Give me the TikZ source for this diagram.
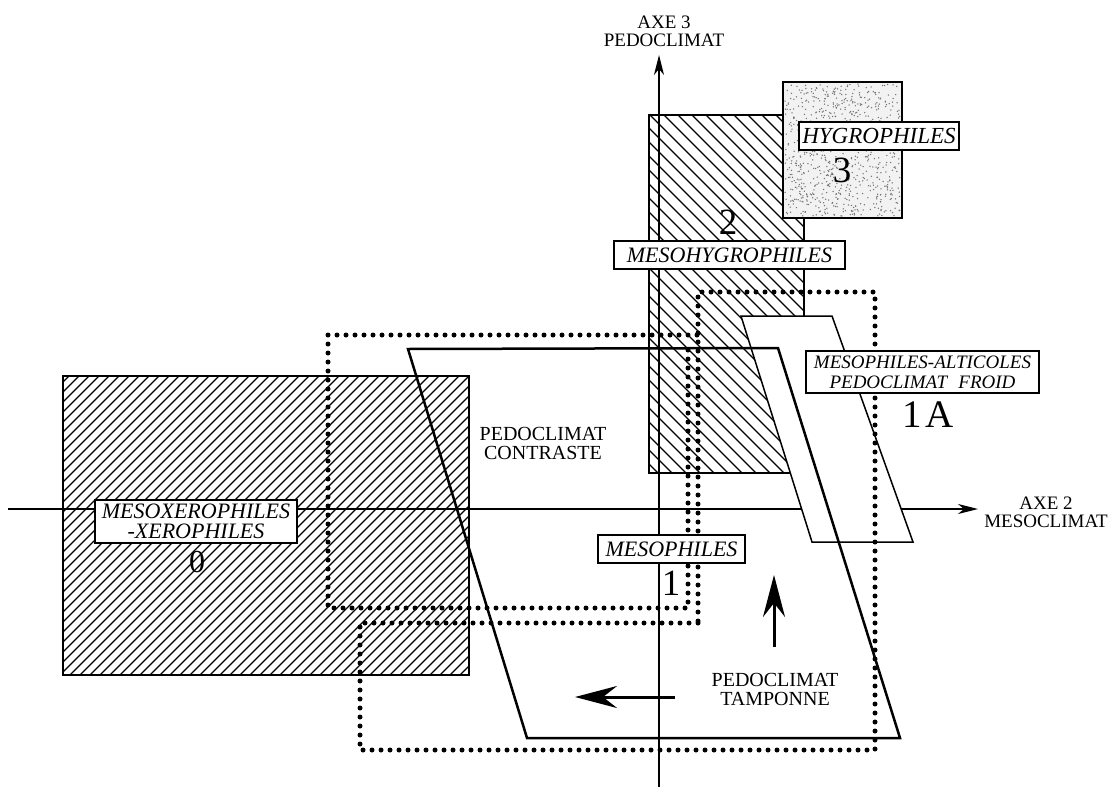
\documentclass[tikz,border=0pt]{standalone}
\usepackage{fontspec}
\setmainfont{Liberation Serif}
\usetikzlibrary{arrows.meta}
\begin{document}
\begin{tikzpicture}[x=1pt,y=-1pt,
  hatchline/.style={line width=1.2pt},
  border/.style={line width=1.5pt},
  dotline/.style={line width=5pt, dash pattern=on 0pt off 9pt, line cap=round},
  lab/.style={draw, fill=white, line width=1.6pt, inner sep=0pt, font=\fontsize{22}{20}\selectfont\itshape, align=center},
  uptext/.style={font=\fontsize{20}{19}\selectfont, align=center, inner sep=0pt},
  num/.style={font=\fontsize{37}{37}\selectfont, inner sep=0pt},
  axisline/.style={line width=1.4pt, -{Stealth[length=20pt,width=10pt,inset=6pt]}},
  bigarrow/.style={line width=3pt, -{Stealth[length=42pt,width=22pt,inset=14pt]}}
]
\useasboundingbox (0,0) rectangle (1119,787);

% zone 0 (hatched ///)
\begin{scope}
  \clip (63,376) rectangle (469,675);
  \foreach \x in {-240,-230,...,470} \draw[hatchline] (\x,675) -- ++(300,-300);
\end{scope}
\draw[border] (63,376) rectangle (469,675);

% zone 2 (hatched \\\)
\begin{scope}
  \clip (649,115) rectangle (804,473);
  \foreach \x in {286,300,...,810} \draw[hatchline] (\x,115) -- ++(360,360);
\end{scope}
\draw[border] (649,115) rectangle (804,473);

% axes
\coordinate (hx0) at (8,509);
\coordinate (hx1) at (978,509);
\coordinate (vy0) at (659,787);
\coordinate (vy1) at (659,55);
\draw[axisline] (hx0) -- (hx1);
\draw[axisline] (vy0) -- (vy1);

% zone 3 (speckled)
\fill[black!5] (783,82) rectangle (902,218);
\pgfmathsetseed{7}
\foreach \i in {1,...,800} {
  \pgfmathsetmacro\rx{785+115*rnd}
  \pgfmathsetmacro\ry{84+132*rnd}
  \fill[black!55] (\rx,\ry) circle (0.75);
}
\draw[border] (783,82) rectangle (902,218);

% zone 1A
\filldraw[fill=white, border] (741,316) -- (832,316) -- (913,542) -- (812,542) -- cycle;

% main parallelogram
\draw[line width=2.5pt, line join=miter] (408,349) -- (778,348) -- (900,738) -- (527,738) -- cycle;

% dotted zones
\draw[dotline] (688,350) -- (688,608) -- (328,608) -- (328,335) -- (698,335);
\draw[dotline] (698,623) -- (360,623) -- (360,750) -- (875,750) -- (875,292) -- (698,292) -- cycle;

% labels
\node[lab, minimum width=202pt, minimum height=43pt] (l0) at (196,521.5) {MESOXEROPHILES\\-XEROPHILES};
\node[lab, minimum width=231pt, minimum height=28pt] (l2) at (729.5,255) {MESOHYGROPHILES};
\node[lab, font=\fontsize{23}{24}\selectfont\itshape, minimum width=160pt, minimum height=28pt] (l3) at (879,136) {HYGROPHILES};
\node[lab, font=\fontsize{19}{20}\selectfont\itshape, minimum width=233pt, minimum height=42pt] (l1a) at (922.5,372) {MESOPHILES-ALTICOLES\\PEDOCLIMAT\hspace{0.6em}FROID};
\node[lab, minimum width=147pt, minimum height=28pt] (l1) at (671.5,549) {MESOPHILES};

% numbers
\node[num, font=\fontsize{32}{32}\selectfont] (n0) at (197,562) {0};
\node[num] (n1) at (671,583) {1};
\node[num] (n2) at (728,222) {2};
\node[num] (n3) at (842,170) {3};
\node[num, font=\fontsize{39}{39}\selectfont] (n1a) at (928,415) {1\kern3pt A};

% texts
\node[uptext] (tc) at (543,443) {PEDOCLIMAT\\CONTRASTE};
\node[uptext] (tt) at (775,689) {PEDOCLIMAT\\TAMPONNE};
\node[uptext, font=\fontsize{19}{18}\selectfont] (ax3) at (664,31) {AXE 3\\PEDOCLIMAT};
\node[uptext, font=\fontsize{19}{18}\selectfont] (ax2) at (1046,512) {AXE 2\\MESOCLIMAT};

% big arrows
\coordinate (ua0) at (774,647);
\coordinate (ua1) at (774,575);
\draw[bigarrow] (ua0) -- (ua1);
\coordinate (la0) at (675,697);
\coordinate (la1) at (575,697);
\draw[bigarrow] (la0) -- (la1);
\end{tikzpicture}
\end{document}
